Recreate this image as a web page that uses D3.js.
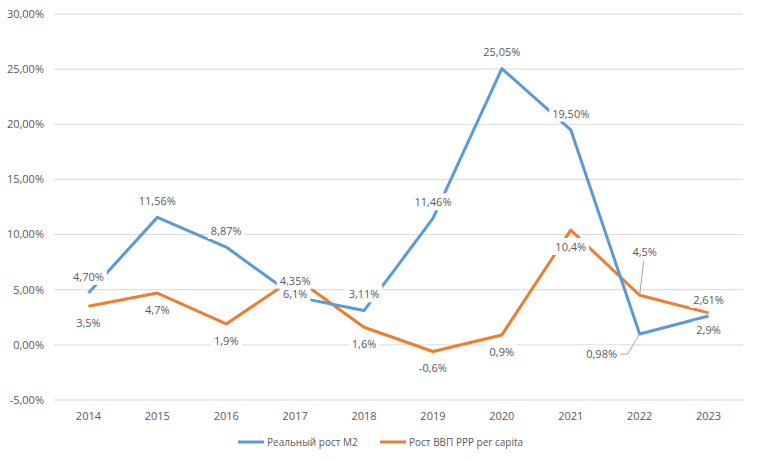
<!DOCTYPE html>
<html>
<head>
<meta charset="utf-8">
<script src="https://cdn.jsdelivr.net/npm/d3@7"></script>
<style>
  body { margin: 0; background: #fff; }
  text { font-family: "Open Sans", "Liberation Sans", sans-serif; fill: #595959; }
</style>
</head>
<body>
<div id="chart"></div>
<script>
const years = ["2014", "2015", "2016", "2017", "2018", "2019", "2020", "2021", "2022", "2023"];
const m2 = [4.70, 11.56, 8.87, 4.35, 3.11, 11.46, 25.05, 19.50, 0.98, 2.61];
const gdp = [3.5, 4.7, 1.9, 6.1, 1.6, -0.6, 0.9, 10.4, 4.5, 2.9];
const m2Labels = ["4,70%", "11,56%", "8,87%", "4,35%", "3,11%", "11,46%", "25,05%", "19,50%", "0,98%", "2,61%"];
const gdpLabels = ["3,5%", "4,7%", "1,9%", "6,1%", "1,6%", "-0,6%", "0,9%", "10,4%", "4,5%", "2,9%"];
const yTicks = [-5, 0, 5, 10, 15, 20, 25, 30];
const seriesNames = ["Реальный рост M2", "Рост ВВП PPP per capita"];

const width = 758, height = 461;
const margin = {top: 14, right: 15, bottom: 61, left: 54};

const svg = d3.select("#chart").append("svg")
    .attr("width", width)
    .attr("height", height);

const x = d3.scalePoint()
    .domain(years)
    .range([margin.left, width - margin.right])
    .padding(0.5);

const y = d3.scaleLinear()
    .domain([-5, 30])
    .range([height - margin.bottom, margin.top]);

// gridlines
svg.append("g")
    .selectAll("line")
    .data(yTicks)
    .enter().append("line")
    .attr("x1", margin.left)
    .attr("x2", width - margin.right)
    .attr("y1", d => y(d))
    .attr("y2", d => y(d))
    .attr("stroke", "#d9d9d9")
    .attr("stroke-width", 1);

// y axis labels
svg.append("g")
    .selectAll("text")
    .data(yTicks)
    .enter().append("text")
    .attr("x", margin.left - 10)
    .attr("y", d => y(d))
    .attr("dy", "0.35em")
    .attr("text-anchor", "end")
    .style("font-size", "11px")
    .text(d => d.toFixed(2).replace(".", ",") + "%");

// x axis labels
svg.append("g")
    .selectAll("text")
    .data(years)
    .enter().append("text")
    .attr("x", d => x(d))
    .attr("y", y(-5) + 16)
    .attr("dy", "0.35em")
    .attr("text-anchor", "middle")
    .style("font-size", "11px")
    .text(d => d);

const line = d3.line()
    .x((d, i) => x(years[i]))
    .y(d => y(d));

const colors = ["#5b9bd5", "#ed7d31"];

svg.append("path")
    .datum(gdp)
    .attr("fill", "none")
    .attr("stroke", colors[1])
    .attr("stroke-width", 3)
    .attr("stroke-linejoin", "round")
    .attr("d", line);

svg.append("path")
    .datum(m2)
    .attr("fill", "none")
    .attr("stroke", colors[0])
    .attr("stroke-width", 3)
    .attr("stroke-linejoin", "round")
    .attr("d", line);

// data labels: blue above, orange below, two moved with leader lines
function addLabels(values, labels, dyDefault, moved) {
    values.forEach((v, i) => {
        const px = x(years[i]), py = y(v);
        let lx = px, ly = py + dyDefault;
        if (moved[i]) {
            lx = px + moved[i][0];
            ly = py + moved[i][1];
            svg.append("polyline")
                .attr("points", moved[i][2].map(p => (px + p[0]) + "," + (py + p[1])).join(" "))
                .attr("fill", "none")
                .attr("stroke", "#a6a6a6")
                .attr("stroke-width", 1);
        }
        const t = svg.append("text")
            .attr("x", lx)
            .attr("y", ly)
            .attr("dy", "0.35em")
            .attr("text-anchor", "middle")
            .style("font-size", "11px")
            .text(labels[i]);
        const b = t.node().getBBox();
        svg.insert("rect", function() { return t.node(); })
            .attr("x", b.x - 3)
            .attr("y", b.y - 1)
            .attr("width", b.width + 6)
            .attr("height", b.height + 2)
            .attr("fill", "#fff");
    });
}

addLabels(m2, m2Labels, -16, {
    8: [-38, 20, [[0, 0], [-12, 20], [-20, 20]]]
});
addLabels(gdp, gdpLabels, 17, {
    8: [5, -43, [[0, 0], [4, -34]]]
});

// legend
const legend = svg.append("g").attr("transform", "translate(0," + (height - 19) + ")");
const legendX = [238, 380];
seriesNames.forEach((name, i) => {
    legend.append("line")
        .attr("x1", legendX[i])
        .attr("x2", legendX[i] + 26)
        .attr("stroke", colors[i])
        .attr("stroke-width", 3);
    legend.append("text")
        .attr("x", legendX[i] + 29)
        .attr("dy", "0.35em")
        .style("font-size", "10px")
        .text(name);
});
</script>
</body>
</html>
